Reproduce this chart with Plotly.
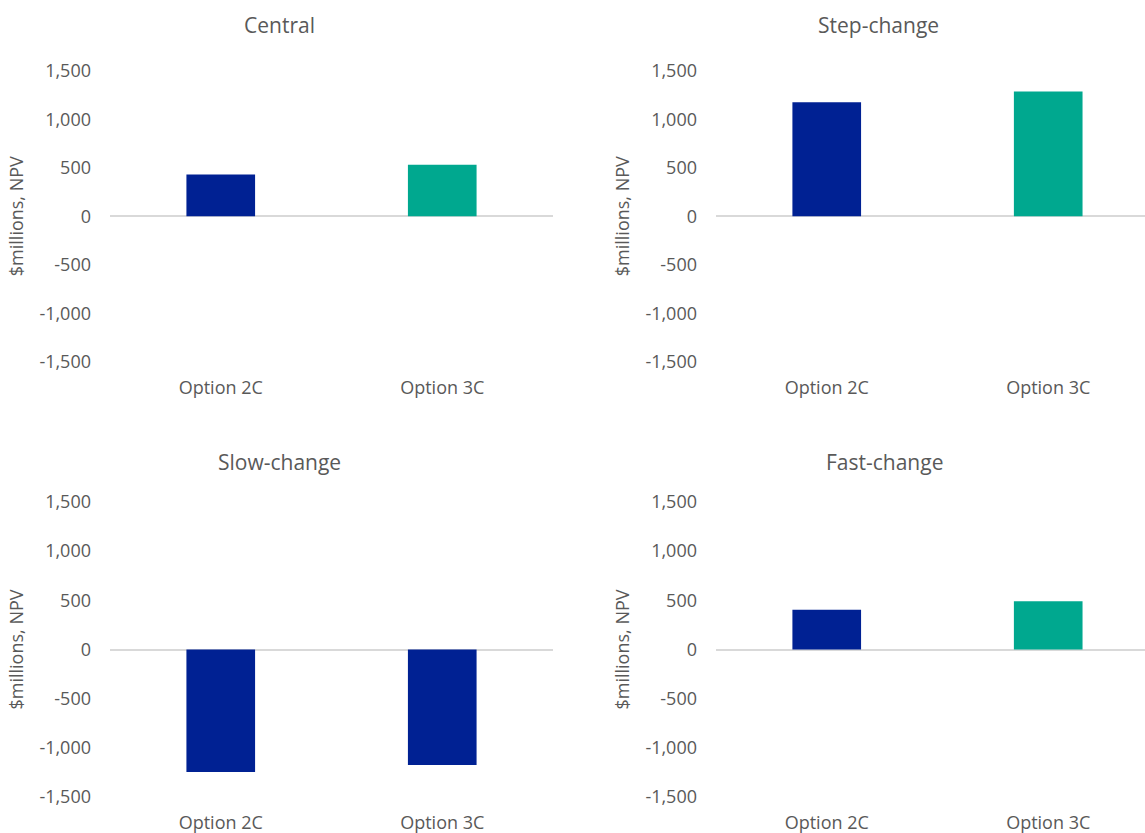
import plotly.graph_objects as go

# ---- data ----
scenarios = ["Central", "Step-change", "Slow-change", "Fast-change"]
options = ["Option 2C", "Option 3C"]
option_2c = [430, 1175, -1245, 405]
option_3c = [530, 1285, -1175, 490]
y_ticks = [-1500, -1000, -500, 0, 500, 1000, 1500]
y_tick_text = ["-1,500", "-1,000", "-500", "0", "500", "1,000", "1,500"]
y_title = "$millions, NPV"

# ---- styles ----
NAVY = "#002193"
TEAL = "#00A88F"
TEXT = "#595959"
FONT = "Open Sans"
W, H = 1145, 833

# panel geometry in pixels
x_doms = [(110, 553), (716, 1145), (110, 553), (716, 1145)]
x_ranges = [[-0.5, 1.5], [-0.5, 1.437], [-0.5, 1.5], [-0.5, 1.437]]
y_doms = [(70.7, 361.7), (70.7, 361.7), (502, 797), (502, 797)]
title_pos = [(279, 25), (879, 25), (279, 462), (884, 462)]

fig = go.Figure()
layout = dict(
    width=W, height=H,
    margin=dict(l=0, r=0, t=0, b=0),
    paper_bgcolor="white", plot_bgcolor="white",
    showlegend=False,
    bargap=0.69,
    font=dict(family=FONT, color=TEXT, size=18),
    annotations=[],
)

for i, name in enumerate(scenarios):
    ax = "" if i == 0 else str(i + 1)
    vals = [option_2c[i], option_3c[i]]
    colors = [NAVY, TEAL if option_3c[i] >= 0 else NAVY]
    fig.add_trace(go.Bar(
        x=options, y=vals, marker=dict(color=colors, line=dict(width=0)),
        xaxis="x" + ax, yaxis="y" + ax, hoverinfo="x+y",
    ))
    x0, x1 = x_doms[i]
    y0, y1 = y_doms[i]
    layout["xaxis" + ax] = dict(
        domain=[x0 / W, x1 / W], anchor="y" + ax, range=x_ranges[i],
        showgrid=False, showline=False, zeroline=False, ticks="",
        tickfont=dict(size=18, color=TEXT, family=FONT),
        ticklabelstandoff=13, automargin=False, fixedrange=True,
    )
    layout["yaxis" + ax] = dict(
        domain=[1 - y1 / H, 1 - y0 / H], anchor="x" + ax,
        range=[-1500, 1500], tickvals=y_ticks, ticktext=y_tick_text,
        showgrid=False, showline=False, ticks="",
        zeroline=True, zerolinecolor="#D9D9D9", zerolinewidth=2,
        tickfont=dict(size=18, color=TEXT, family=FONT),
        ticklabelstandoff=18, automargin=False, fixedrange=True,
        title=dict(text=y_title, font=dict(size=18, color=TEXT, family=FONT), standoff=11),
    )
    tx, ty = title_pos[i]
    layout["annotations"].append(dict(
        text=name, x=tx / W, y=1 - ty / H, xref="paper", yref="paper",
        xanchor="center", yanchor="middle", showarrow=False,
        font=dict(size=21, color=TEXT, family=FONT),
    ))

fig.update_layout(**layout)
fig.write_html("out.html")
